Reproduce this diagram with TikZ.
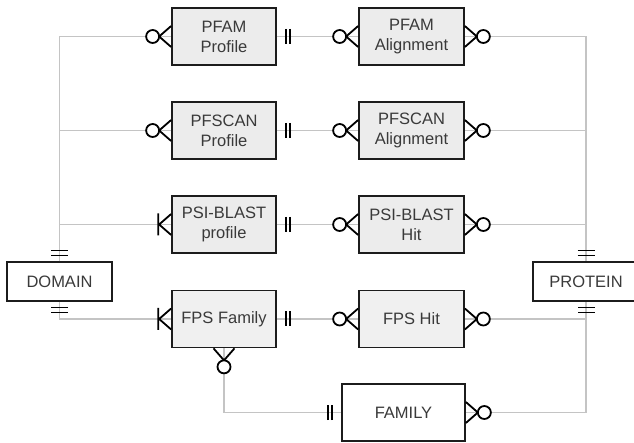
\documentclass[tikz,border=0pt]{standalone}
\usepackage{fontspec}
\setmainfont{Liberation Sans}
\definecolor{boxgray}{RGB}{236,236,236}
\definecolor{hatchgray}{RGB}{240,240,240}
\definecolor{textgray}{RGB}{58,58,58}
\definecolor{linegray}{RGB}{196,196,196}
\definecolor{edgegray}{RGB}{28,28,28}
\begin{document}
\begin{tikzpicture}[x=1pt,y=-1pt,
  ent/.style={draw=edgegray, line width=1.7pt, fill=boxgray, minimum width=104pt,
    minimum height=57pt, inner sep=0pt, align=center,
    font=\fontsize{16.5}{20}\selectfont, text=textgray},
  plainent/.style={ent, fill=white},
  conn/.style={draw=linegray, line width=1.4pt},
  sym/.style={draw=black, line width=1.8pt},
  zm/.pic={\draw[sym] (0,-10.5) -- (12,0) -- (0,10.5); \draw[sym, fill=white] (18.5,0) circle (6.5);},
  om/.pic={\draw[sym] (0,-10.5) -- (12,0) -- (0,10.5) (13,-11) -- (13,11);},
  oo/.pic={\draw[sym] (9,-7.5) -- (9,7.5) (13,-7.5) -- (13,7.5);},
  dd/.pic={\draw[sym, line width=1.6pt] (5.5,-8.5) -- (5.5,8.5) (10.5,-8.5) -- (10.5,8.5);}
]
\useasboundingbox (0,0) rectangle (634,443);

% entities
\node[ent] (pfamP)   at (224,36.5)  {PFAM\\Profile};
\node[ent] (pfscanP) at (224,130.5) {PFSCAN\\Profile};
\node[ent] (psiP)    at (224,224.5) {PSI-BLAST\\profile};
\node[ent, fill=hatchgray] (fpsF) at (224,319) {FPS Family};

\node[ent, minimum width=105pt] (pfamA)   at (411.5,36.5)  {PFAM\\Alignment};
\node[ent, minimum width=105pt] (pfscanA) at (411.5,130.5) {PFSCAN\\Alignment};
\node[ent, minimum width=105pt] (psiH)    at (411.5,224.5) {PSI-BLAST\\Hit};
\node[ent, minimum width=105pt, fill=hatchgray] (fpsH) at (411.5,319) {FPS Hit};

\node[plainent, minimum width=105pt, minimum height=39pt] (domain)  at (59.5,281.5) {DOMAIN};
\node[plainent, minimum width=106pt, minimum height=39pt] (protein) at (586,281.5) {PROTEIN};
\node[plainent, minimum width=123pt, minimum height=57pt] (family)  at (403.5,412.5) {FAMILY};

% connectors
\draw[conn] (domain.north) |- (pfamP.west);
\draw[conn] (domain.north) |- (pfscanP.west);
\draw[conn] (domain.north) |- (psiP.west);
\draw[conn] (domain.south) |- (fpsF.west);

\draw[conn] (pfamP) -- (pfamA);
\draw[conn] (pfscanP) -- (pfscanA);
\draw[conn] (psiP) -- (psiH);
\draw[conn] (fpsF) -- (fpsH);

\draw[conn] (pfamA.east) -| (protein.north);
\draw[conn] (pfscanA.east) -| (protein.north);
\draw[conn] (psiH.east) -| (protein.north);
\draw[conn] (fpsH.east) -| (protein.south);
\draw[conn] (family.east) -| (protein.south);

\draw[conn] (fpsF.south) |- (family.west);

% cardinality symbols
\pic[rotate=90]  at (domain.north) {dd};
\pic[rotate=-90] at (domain.south) {dd};
\pic[rotate=90]  at (protein.north) {dd};
\pic[rotate=-90] at (protein.south) {dd};

\pic[rotate=180] at (pfamP.west) {zm};
\pic[rotate=180] at (pfscanP.west) {zm};
\pic[rotate=180] at (psiP.west) {om};
\pic[rotate=180] at (fpsF.west) {om};

\pic at (pfamP.east) {oo};
\pic at (pfscanP.east) {oo};
\pic at (psiP.east) {oo};
\pic at (fpsF.east) {oo};

\pic[rotate=180] at (pfamA.west) {zm};
\pic[rotate=180] at (pfscanA.west) {zm};
\pic[rotate=180] at (psiH.west) {zm};
\pic[rotate=180] at (fpsH.west) {zm};

\pic at (pfamA.east) {zm};
\pic at (pfscanA.east) {zm};
\pic at (psiH.east) {zm};
\pic at (fpsH.east) {zm};

\pic[rotate=-90] at (fpsF.south) {zm};
\pic[rotate=180] at (family.west) {oo};
\pic at (family.east) {zm};
\end{tikzpicture}
\end{document}
